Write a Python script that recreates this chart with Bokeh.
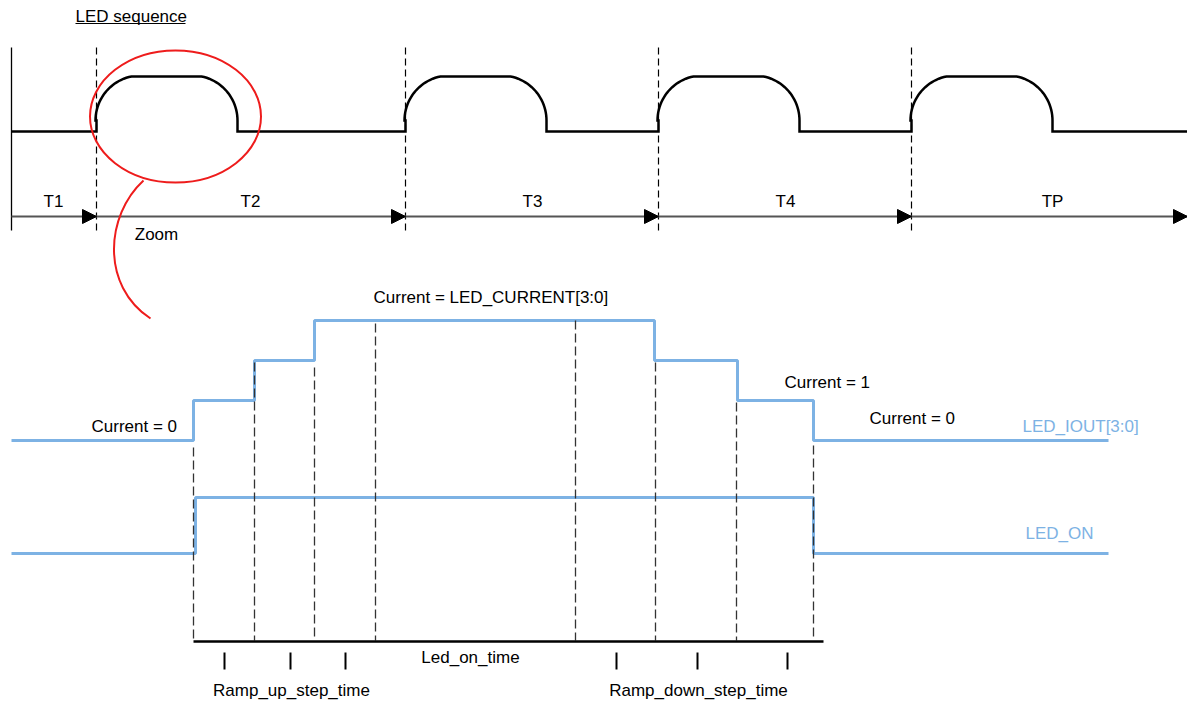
import numpy as np
from bokeh.plotting import figure
from bokeh.models import Range1d
from bokeh.core.properties import value
from bokeh.embed import file_html
from bokeh.resources import INLINE

# ---------------- data ----------------
# top "LED sequence" panel
pulse_starts = [96, 405, 658, 911]          # rising edges (dashed markers)
period_bounds = [11, 96, 405, 658, 911, 1187]
period_labels = ["T1", "T2", "T3", "T4", "TP"]
period_label_x = [53, 250, 532, 785, 1052]

# zoomed panel: LED_IOUT[3:0] step levels and LED_ON
iout_x = [11, 193, 254, 314, 654, 737, 813, 1108]
iout_level = [0, 1, 2, 3, 2, 1, 0, 0]
on_x = [11, 195, 813, 1108]
on_level = [0, 1, 0, 0]

# dashed time markers in zoomed panel
mark_x = [193, 254, 314, 375, 575, 655, 736, 813]
mark_top = [447, 362, 367, 323, 320, 362, 402, 445]
# short ticks under time axis
tick_x = [224, 290, 345, 616, 697, 787]

BLUE = "#7db2e4"
FONT = value("Liberation Sans")

p = figure(width=1187, height=702, x_range=Range1d(0, 1187), y_range=Range1d(702, 0),
           output_backend="svg", toolbar_location=None, min_border=0)
p.axis.visible = False
p.grid.visible = False
p.outline_line_color = None
p.background_fill_color = "white"
p.border_fill_color = "white"

# ---- top panel ----
p.text(x=[75], y=[16], text=["LED sequence"], text_font=FONT, text_font_size="17px",
       text_align="left", text_baseline="middle", text_color="black")
p.line(x=[75, 185], y=[23, 23], line_color="black", line_width=1.2)

p.line(x=[11, 11], y=[47, 230], line_color="black", line_width=1.3)

p.segment(x0=pulse_starts, y0=[47] * 4, x1=pulse_starts, y1=[232] * 4,
          line_color="black", line_width=1.2, line_dash="7 4")

# pulse waveform geometry (circular arcs, r=45, centred 10 px above baseline)
BASE, R, CY = 131, 45, 120
wx, wy = [11], [BASE]
for s in pulse_starts:
    wx += [s, s]
    wy += [BASE, CY]
    t1 = np.linspace(np.pi, np.arccos(-9 / R), 24)
    wx += list(s + 44 + R * np.cos(t1))
    wy += list(CY - R * np.sin(t1))
    t2 = np.linspace(np.arccos(9 / R), 0, 24)
    wx += list(s + 96 + R * np.cos(t2))
    wy += list(CY - R * np.sin(t2))
    wx += [s + 141]
    wy += [BASE]
wx.append(1187)
wy.append(BASE)
p.line(x=wx, y=wy, line_color="black", line_width=2.5, line_join="miter")

# timeline with arrows
AY = 216
p.line(x=[11, 1187], y=[AY, AY], line_color="#555555", line_width=2)
tips = period_bounds[1:]
p.patches(xs=[[t - 14, t - 14, t] for t in tips], ys=[[AY - 7, AY + 7, AY] for _ in tips],
          fill_color="black", line_color="black")
p.text(x=period_label_x, y=[201] * 5, text=period_labels, text_font=FONT, text_font_size="17px",
       text_align="center", text_baseline="middle", text_color="black")
p.text(x=[156], y=[234], text=["Zoom"], text_font=FONT, text_font_size="17px",
       text_align="center", text_baseline="middle", text_color="black")

# red zoom ellipse and tail
p.ellipse(x=[175], y=[116], width=171, height=132, fill_alpha=0,
          line_color="#ee1c1c", line_width=2)
p.bezier(x0=[143], y0=[180], cx0=[105], cy0=[215], cx1=[100], cy1=[285], x1=[150], y1=[318],
         line_color="#ee1c1c", line_width=2)

# ---- zoomed panel ----
def iout_y(lv):
    return 440 - 40 * lv

def on_y(lv):
    return 553 - 56 * lv

p.step(x=iout_x, y=[iout_y(v) for v in iout_level], mode="after",
       line_color=BLUE, line_width=3)
p.step(x=on_x, y=[on_y(v) for v in on_level], mode="after",
       line_color=BLUE, line_width=3)

p.segment(x0=mark_x, y0=mark_top, x1=mark_x, y1=[640] * len(mark_x),
          line_color="#333333", line_width=1.3, line_dash="9 4")

p.line(x=[193, 823], y=[641, 641], line_color="black", line_width=2.5)
p.segment(x0=tick_x, y0=[652] * 6, x1=tick_x, y1=[669] * 6, line_color="black", line_width=2)

p.text(x=[91, 373, 784, 869], y=[426, 297, 382, 418],
       text=["Current = 0", "Current = LED_CURRENT[3:0]", "Current = 1", "Current = 0"],
       text_font=FONT, text_font_size="17px", text_align="left", text_baseline="middle",
       text_color="black")
p.text(x=[1022, 1025], y=[426, 533], text=["LED_IOUT[3:0]", "LED_ON"],
       text_font=FONT, text_font_size="17px", text_align="left", text_baseline="middle",
       text_color=BLUE)
p.text(x=[470, 291, 698], y=[657, 690, 690],
       text=["Led_on_time", "Ramp_up_step_time", "Ramp_down_step_time"],
       text_font=FONT, text_font_size="17px", text_align="center", text_baseline="middle",
       text_color="black")

open("out.html", "w").write(file_html(p, INLINE))
